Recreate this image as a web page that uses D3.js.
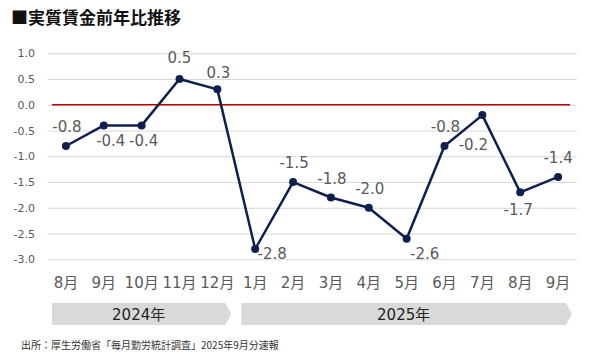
<!DOCTYPE html>
<html>
<head>
<meta charset="utf-8">
<script src="https://cdn.jsdelivr.net/npm/d3@7"></script>
<style>
  body { margin: 0; background: #fff; }
  svg { display: block; }
</style>
</head>
<body>
<div id="chart"></div>
<script>
// data
const months = ["8月", "9月", "10月", "11月", "12月", "1月", "2月", "3月", "4月", "5月", "6月", "7月", "8月", "9月"];
const values = [-0.8, -0.4, -0.4, 0.5, 0.3, -2.8, -1.5, -1.8, -2.0, -2.6, -0.8, -0.2, -1.7, -1.4];
const years = ["2024年", "2025年"];
const yearStart = [0, 5];
const yearEnd = [4, 13];
const yTicks = [1.0, 0.5, 0.0, -0.5, -1.0, -1.5, -2.0, -2.5, -3.0];

// where each data label sits relative to its point [dx, dy]
const labelOffset = [[1, -19], [7, 15], [2, 15], [0, -21], [1, -17], [17, 5], [1, -19], [1, -19], [1, -19], [18, 15], [1, -19], [-9, 29], [-2, 17], [0, -19]];

const width = 590, height = 354;
const numFont = "'DejaVu Sans', 'Noto Sans CJK JP', sans-serif";
const jpFont = "'Noto Sans CJK JP', sans-serif";

// plain hyphen for negatives, like the original
const fmt = d3.formatLocale({ decimal: ".", thousands: ",", grouping: [3], currency: ["", ""], minus: "-" }).format(".1f");

const svg = d3.select("#chart").append("svg")
	.attr("width", width)
	.attr("height", height);

// title
svg.append("text")
	.attr("x", 11)
	.attr("y", 24)
	.style("font-family", jpFont)
	.style("font-weight", "bold")
	.style("font-size", "17px")
	.attr("fill", "#111")
	.text("■実質賃金前年比推移");

// scales
const x = d3.scaleBand()
	.domain(d3.range(months.length))
	.range([47, 577])
	.padding(0);

const y = d3.scaleLinear()
	.domain([-3, 1])
	.range([259.3, 53.3]);

const cx = i => x(i) + x.bandwidth() / 2;

// y axis + gridlines
const yAxis = d3.axisLeft(y)
	.tickValues(yTicks)
	.tickFormat(fmt)
	.tickSize(-(577 - 48))
	.tickPadding(13);

const yg = svg.append("g")
	.attr("transform", "translate(48,0)")
	.call(yAxis);
yg.select(".domain").remove();
yg.selectAll(".tick line").attr("stroke", "#d9d9d9").attr("stroke-width", 1);
yg.selectAll(".tick text")
	.attr("fill", "#595959")
	.style("font-family", numFont)
	.style("font-size", "11px");

// zero line
svg.append("line")
	.attr("x1", x(0) + 5)
	.attr("x2", x(months.length - 1) + x.bandwidth() - 7)
	.attr("y1", y(0))
	.attr("y2", y(0))
	.attr("stroke", "#c00000")
	.attr("stroke-width", 1.5);

// x axis (month labels)
const xAxis = d3.axisBottom(x)
	.tickFormat(i => months[i])
	.tickSize(0)
	.tickPadding(0);

const xg = svg.append("g")
	.attr("transform", "translate(0,277)")
	.call(xAxis);
xg.select(".domain").remove();
xg.selectAll(".tick text")
	.attr("fill", "#595959")
	.style("font-family", numFont)
	.style("font-size", "15px");

// year arrows
const arrowTop = 303, arrowBot = 325, tip = 6;
years.forEach((yr, k) => {
	const x0 = x(yearStart[k]) + 5;
	const x1 = x(yearEnd[k]) + x.bandwidth() - 5;
	const mid = (arrowTop + arrowBot) / 2;
	svg.append("path")
		.attr("d", `M${x0},${arrowTop}L${x1 - tip},${arrowTop}L${x1},${mid}L${x1 - tip},${arrowBot}L${x0},${arrowBot}Z`)
		.attr("fill", "#d9d9d9");
	svg.append("text")
		.attr("x", (x0 + x1 - tip) / 2)
		.attr("y", mid + 5.5)
		.attr("text-anchor", "middle")
		.attr("fill", "#222")
		.style("font-family", numFont)
		.style("font-size", "15px")
		.text(yr);
});

// line
const line = d3.line()
	.x((d, i) => cx(i))
	.y(d => y(d));

svg.append("path")
	.datum(values)
	.attr("fill", "none")
	.attr("stroke", "#0f1f4f")
	.attr("stroke-width", 2.5)
	.attr("stroke-linejoin", "round")
	.attr("d", line);

svg.selectAll(".dot")
	.data(values)
	.enter()
	.append("circle")
	.attr("class", "dot")
	.attr("cx", (d, i) => cx(i))
	.attr("cy", d => y(d))
	.attr("r", 4)
	.attr("fill", "#0f1f4f");

// data labels
svg.selectAll(".lbl")
	.data(values)
	.enter()
	.append("text")
	.attr("class", "lbl")
	.attr("x", (d, i) => cx(i) + labelOffset[i][0])
	.attr("y", (d, i) => y(d) + labelOffset[i][1])
	.attr("dy", "0.36em")
	.attr("text-anchor", "middle")
	.attr("fill", "#595959")
	.style("font-family", numFont)
	.style("font-size", "15px")
	.text(d => fmt(d));

// source note
svg.append("text")
	.attr("x", 21)
	.attr("y", 349)
	.attr("fill", "#333")
	.style("font-family", jpFont)
	.style("font-size", "10px")
	.text("出所：厚生労働省「毎月勤労統計調査」2025年9月分速報");
</script>
</body>
</html>
